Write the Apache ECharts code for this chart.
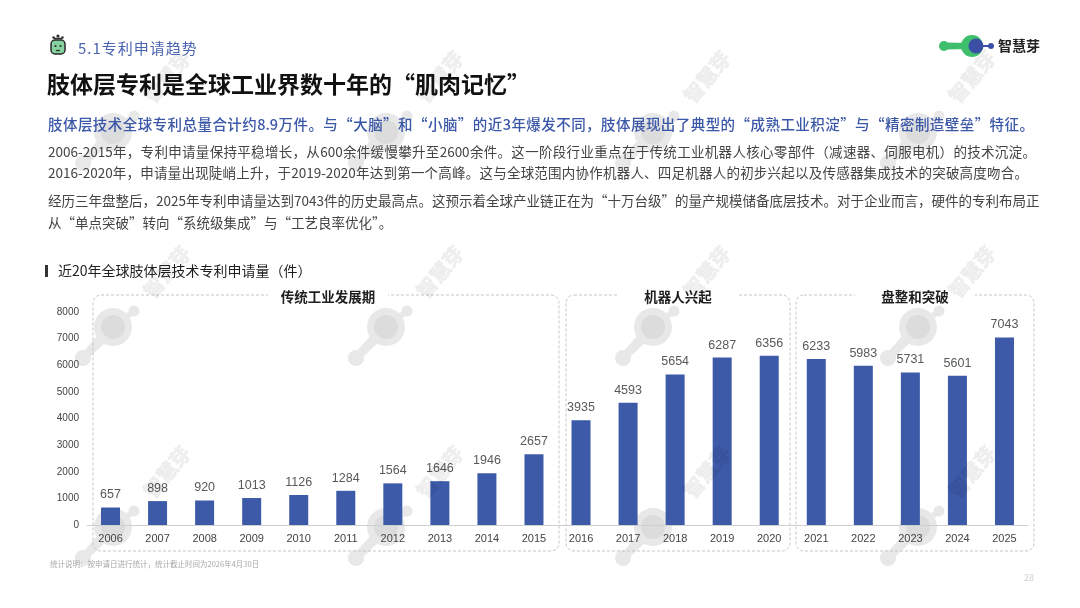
<!DOCTYPE html>
<html><head><meta charset="utf-8">
<script src="https://cdn.jsdelivr.net/npm/echarts/dist/echarts.min.js"></script>
<style>
html,body{margin:0;padding:0;background:#fff;width:1080px;height:608px;overflow:hidden;font-family:"Noto Sans CJK SC","Noto Sans",sans-serif;}
#chart{position:absolute;left:0;top:0;width:1080px;height:608px;}
.t{position:absolute;white-space:nowrap;}
.j{white-space:normal;text-align:justify;text-align-last:justify;}
</style></head><body>
<div id="chart"></div>
<div class="t" style="left:78px;top:38px;font-size:15px;line-height:20px;color:#4a64b0;letter-spacing:1px;">5.1专利申请趋势</div>
<div class="t" style="left:47px;top:68px;font-size:23px;line-height:30px;color:#111;font-weight:bold;">肢体层专利是全球工业界数十年的“肌肉记忆”</div>
<div class="t j" style="left:48px;top:114px;width:986px;font-size:14.5px;line-height:20px;color:#3b57a8;font-weight:500;">肢体层技术全球专利总量合计约8.9万件。与“大脑”和“小脑”的近3年爆发不同，肢体展现出了典型的“成熟工业积淀”与“精密制造壁垒”特征。</div>
<div class="t j" style="left:48px;top:141px;width:988px;font-size:13.5px;line-height:20px;color:#444;">2006-2015年，专利申请量保持平稳增长，从600余件缓慢攀升至2600余件。这一阶段行业重点在于传统工业机器人核心零部件（减速器、伺服电机）的技术沉淀。</div>
<div class="t j" style="left:48px;top:162px;width:980px;font-size:13.5px;line-height:20px;color:#444;">2016-2020年，申请量出现陡峭上升，于2019-2020年达到第一个高峰。这与全球范围内协作机器人、四足机器人的初步兴起以及传感器集成技术的突破高度吻合。</div>
<div class="t" style="left:48px;top:190px;font-size:13.5px;line-height:20px;color:#444;">经历三年盘整后，2025年专利申请量达到7043件的历史最高点。这预示着全球产业链正在为“十万台级”的量产规模储备底层技术。对于企业而言，硬件的专利布局正</div>
<div class="t" style="left:48px;top:212px;font-size:13.5px;line-height:20px;color:#444;">从“单点突破”转向“系统级集成”与“工艺良率优化”。</div>
<div class="t" style="left:50px;top:559px;font-size:7.5px;line-height:10px;color:#a8a8a8;">统计说明：按申请日进行统计，统计截止时间为2026年4月30日</div>
<div class="t" style="left:1024px;top:572px;font-size:9px;line-height:12px;color:#cfcfcf;">28</div>
<script>
// ---- data ----
const years = ['2006','2007','2008','2009','2010','2011','2012','2013','2014','2015',
               '2016','2017','2018','2019','2020','2021','2022','2023','2024','2025'];
const patents = [657,898,920,1013,1126,1284,1564,1646,1946,2657,
                 3935,4593,5654,6287,6356,6233,5983,5731,5601,7043];
const yMin = 0, yMax = 8000, yStep = 1000;
const chartTitle = '近20年全球肢体层技术专利申请量（件）';
const groupNames = ['传统工业发展期','机器人兴起','盘整和突破'];

// ---- layout (decoration only) ----
const boxes = [
  {x1:93, x2:559, tx:328},
  {x1:566, x2:790, tx:678},
  {x1:796, x2:1034, tx:915}
];
const boxTop = 295, boxBottom = 551;

function neckPts(ax,ay,wa,bx,by,wb){
  const dx=bx-ax,dy=by-ay,l=Math.hypot(dx,dy),px=-dy/l,py=dx/l;
  return [[ax+px*wa,ay+py*wa],[bx+px*wb,by+py*wb],[bx-px*wb,by-py*wb],[ax-px*wa,ay-py*wa]];
}

const wmX=[167,440,707,972], wmY=[77,272,472];
const graphics=[];
// robot icon
graphics.push(
  {type:'line',shape:{x1:54,y1:38.5,x2:62,y2:38.5},style:{stroke:'#2b2b2b',lineWidth:1.5}},
  {type:'circle',shape:{cx:58,cy:36,r:1.6},style:{fill:'#2b2b2b'}},
  {type:'circle',shape:{cx:53.5,cy:37.5,r:1.2},style:{fill:'#2b2b2b'}},
  {type:'circle',shape:{cx:62.5,cy:37.5,r:1.2},style:{fill:'#2b2b2b'}},
  {type:'rect',shape:{x:51,y:40,width:14,height:14,r:4},style:{fill:'#86d1a0',stroke:'#2b2b2b',lineWidth:1.5}},
  {type:'circle',shape:{cx:55.5,cy:46,r:1.1},style:{fill:'#2b2b2b'}},
  {type:'circle',shape:{cx:60.5,cy:46,r:1.1},style:{fill:'#2b2b2b'}},
  {type:'line',shape:{x1:56,y1:50.5,x2:60,y2:50.5},style:{stroke:'#2b2b2b',lineWidth:1.2}}
);
// logo
graphics.push(
  {type:'circle',shape:{cx:944,cy:46,r:5},style:{fill:'#3fbe6d'}},
  {type:'polygon',shape:{points:neckPts(944,46,3.5,972,46,3)},style:{fill:'#3fbe6d'}},
  {type:'circle',shape:{cx:972,cy:46,r:11},style:{fill:'#3fbe6d'}},
  {type:'circle',shape:{cx:976,cy:46,r:7.5},style:{fill:'#3b4fa6'}},
  {type:'line',shape:{x1:982,y1:46,x2:990,y2:46},style:{stroke:'#3b4fa6',lineWidth:2}},
  {type:'circle',shape:{cx:991,cy:46,r:3},style:{fill:'#3b4fa6'}},
  {type:'text',x:998,y:46,style:{text:'智慧芽',fontSize:14,fontWeight:'bold',fill:'#222',verticalAlign:'middle',fontFamily:'Noto Sans CJK SC'}}
);
// chart title
graphics.push(
  {type:'rect',shape:{x:45,y:265,width:3,height:12},style:{fill:'#333'}},
  {type:'text',x:58,y:271,style:{text:chartTitle,fontSize:14,fill:'#1e1e1e',verticalAlign:'middle',fontFamily:'Noto Sans CJK SC'}}
);
// watermark blobs (behind bars, opaque light grey)
const blobC='#e8e8e8', blobIn='#dcdcdc';
wmY.forEach(wy=>wmX.forEach(wx=>{
  const cx=wx-54, cy=wy+55;
  graphics.push(
    {type:'polygon',z:0,silent:true,shape:{points:neckPts(cx,cy,4,cx+21,cy-16,2.5)},style:{fill:blobC}},
    {type:'polygon',z:0,silent:true,shape:{points:neckPts(cx,cy,6,cx-30,cy+31,4)},style:{fill:blobC}},
    {type:'circle',z:0,silent:true,shape:{cx:cx+21,cy:cy-16,r:5.5},style:{fill:blobC}},
    {type:'circle',z:0,silent:true,shape:{cx:cx-30,cy:cy+31,r:8},style:{fill:blobC}},
    {type:'circle',z:0,silent:true,shape:{cx:cx,cy:cy,r:19},style:{fill:blobC}},
    {type:'circle',z:0,silent:true,shape:{cx:cx,cy:cy,r:12},style:{fill:blobIn}}
  );
}));
// group boxes
boxes.forEach((b,i)=>{
  graphics.push(
    {type:'rect',z:0,shape:{x:b.x1,y:boxTop,width:b.x2-b.x1,height:boxBottom-boxTop,r:8},style:{fill:'none',stroke:'#c6c6c6',lineWidth:1,lineDash:[3,2]}},
    {type:'rect',z:1,shape:{x:b.tx-60,y:boxTop-3,width:120,height:6},style:{fill:'#fff'}},
    {type:'text',z:2,x:b.tx,y:boxTop+2,style:{text:groupNames[i],fontSize:13.5,fontWeight:'bold',fill:'#1e1e1e',align:'center',verticalAlign:'middle',fontFamily:'Noto Sans CJK SC'}}
  );
});
// watermark text (on top, translucent)
wmY.forEach(wy=>wmX.forEach(wx=>{
  graphics.push(
    {type:'text',z:100,silent:true,x:wx,y:wy,rotation:50*Math.PI/180,style:{text:'智慧芽',fontSize:20,fontWeight:'bold',fill:'rgba(0,0,0,0.06)',stroke:'rgba(0,0,0,0.04)',lineWidth:1,align:'center',verticalAlign:'middle',fontFamily:'Noto Sans CJK SC'}}
  );
}));

const chart = echarts.init(document.getElementById('chart'), null, {renderer:'canvas'});
chart.setOption({
  animation:false,
  backgroundColor:'#fff',
  grid:{left:87,right:52,top:312,bottom:83,containLabel:false},
  xAxis:{type:'category',data:years,
    axisLine:{lineStyle:{color:'#cfcfcf',width:1}},axisTick:{show:false},
    axisLabel:{color:'#444',fontSize:11,margin:8,fontFamily:'Liberation Sans'}},
  yAxis:{type:'value',min:yMin,max:yMax,interval:yStep,
    axisLine:{show:false},axisTick:{show:false},splitLine:{show:false},
    axisLabel:{color:'#444',fontSize:10,margin:8,fontFamily:'Liberation Sans',formatter:v=>String(v)}},
  series:[{type:'bar',data:patents,barWidth:19,z:5,
    itemStyle:{color:'#3d5aa8'},
    label:{show:true,position:'top',distance:6,color:'#595959',fontSize:12.5,fontFamily:'Liberation Sans'}}],
  graphic:{elements:graphics}
});
</script>
</body></html>
